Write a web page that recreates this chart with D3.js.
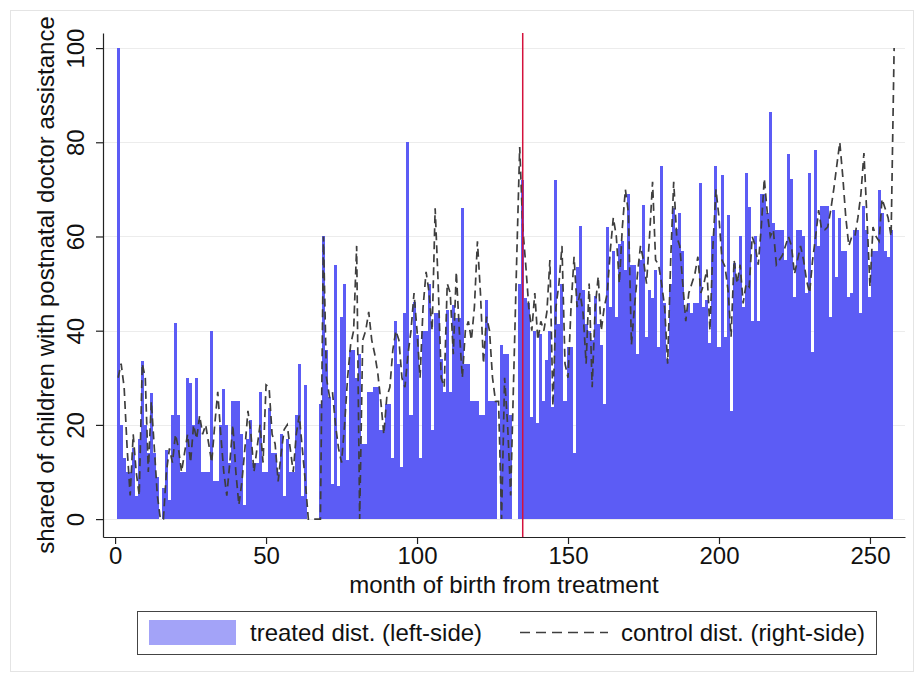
<!DOCTYPE html>
<html>
<head>
<meta charset="utf-8">
<script src="https://cdn.jsdelivr.net/npm/d3@7"></script>
<style>
  html, body { margin: 0; padding: 0; background: #fff; }
  svg { display: block; }
  text { font-family: "Liberation Sans", Arial, sans-serif; fill: #111; }
</style>
</head>
<body>
<svg id="chart" width="922" height="681"></svg>
<script>
// Share of children with postnatal doctor assistance, by month of birth (months 1..257)
const treated = [
  100, 20, 13, 10, 10, 15, 5, 17, 33.5, 20,
  14, 26.7, 14, 9, 0, 6.5, 14.6, 4, 22, 41.7,
  22, 10, 10, 30, 28.8, 20, 30, 21, 10, 10,
  10, 40, 8, 8, 20, 27.7, 20, 12, 25, 25,
  25, 18, 3, 17, 21, 12, 12, 27, 10, 10,
  23.5, 14, 14, 10, 18, 5, 17, 10, 10, 22,
  33, 5, 28.5, 0, 0, 0, 0, 24.5, 60, 36,
  26, 7.5, 54, 7, 43, 50, 12.5, 36, 36, 30,
  35, 16, 16, 27, 27, 28, 28, 19, 19, 24.5,
  24.5, 13, 42, 33, 11, 43.7, 80, 22, 46, 39,
  13, 40, 40, 50, 19, 43.7, 43.7, 34, 27, 44.4,
  27, 45.4, 42.6, 42.6, 66, 33, 33, 25, 25, 25,
  22, 22, 46.6, 25, 25, 25, 0, 37, 35, 35,
  22, 0, 0, 50, 72, 47, 45.8, 21.7, 40, 20.3,
  39.4, 25, 33.8, 40, 23.8, 72, 41.5, 50, 25, 36.6,
  36.6, 14, 53.6, 62.3, 48.6, 41.5, 40, 38, 47.3, 41.5,
  37, 24.5, 62, 45, 57, 43, 58.5, 59, 52.8, 69,
  54, 54, 35, 55, 66.6, 38.7, 48.6, 47, 52.8, 36.6,
  75, 45.8, 34, 50, 66, 61.5, 65, 57, 44.4, 45.8,
  43.7, 45.8, 45.8, 71.3, 45, 46.5, 37.3, 60, 75, 36.6,
  73, 38.7, 64.5, 23, 54.3, 51, 60, 45, 73.4, 66.3,
  42, 60, 42, 69, 69, 65, 86.5, 62.8, 61.4, 61.4,
  61.4, 55, 77.6, 72.3, 47.2, 61.4, 61.4, 60, 47.9, 73.4,
  35.5, 78.3, 58, 66.4, 66.4, 66.4, 43, 65.6, 51.5, 64,
  57, 57, 47.2, 47.9, 61.4, 61.4, 43.7, 66.4, 61.4, 47.2,
  57, 57, 69.9, 65, 57, 55.7, 61.4
];

// Control district series (months 1..258)
const control = [
  30, 33, 28, 15, 5, 18, 10, 5, 33, 30,
  10, 25, 15, 5, 0, 0, 10, 15, 12, 18,
  15, 10, 14, 18, 12, 20, 17, 22, 18, 20,
  16, 12, 20, 27, 18, 10, 5, 12, 20, 10,
  3, 8, 15, 23, 18, 10, 15, 20, 12, 28.5,
  28, 18, 16, 8, 14, 19, 20, 15, 10, 18,
  22, 15, 8, 0, 0, 0, 0, 0, 60, 30,
  26, 27, 20, 15, 12, 20, 30, 37, 40, 58,
  0, 38, 40, 44, 38, 35, 31, 25, 18, 26,
  28, 36, 40, 38, 30, 28, 35, 40, 48, 40,
  30, 45, 52.5, 48, 40, 66, 50, 30, 28, 50,
  48, 35, 52.5, 40, 30, 40, 42, 38, 45, 59,
  48, 33, 43, 40, 30, 25, 25, 0, 30, 20,
  5, 30, 55, 79, 62, 54, 45, 40, 48, 38,
  42, 40, 44, 55, 24, 45, 50, 58, 33, 30,
  45, 55.7, 45, 48, 43.7, 33, 50, 28, 45, 51.5,
  40, 45, 48, 57, 64, 60, 50, 62, 70, 65,
  37, 45, 52, 58, 55, 50, 60, 71.6, 55, 54,
  50, 45, 33, 55, 71.6, 60, 58, 50, 42, 48,
  50, 52, 55.7, 48, 50, 53, 40, 58, 70, 64,
  55, 53.6, 48.6, 38.7, 55, 50, 54, 45.8, 50, 49.3,
  60, 58, 54, 62, 72.3, 65, 60, 61.4, 54, 55,
  56, 58, 60, 58, 52, 55, 58, 55, 50.7, 48,
  55, 60, 65.6, 61.4, 61.4, 62, 65.6, 70, 75, 80,
  72.7, 64, 58, 60, 60, 64, 69, 77.7, 64, 49.3,
  62, 60, 59, 68, 66, 64, 60, 100
];

const xTicks = [0, 50, 100, 150, 200, 250];
const yTicks = [0, 20, 40, 60, 80, 100];
const cutoffMonth = 135;
const seriesLabels = ["treated dist. (left-side)", "control dist. (right-side)"];
const xTitle = "month of birth from treatment";
const yTitle = "shared of children with postnatal doctor assistance";

const barColor = "#5c5cf5";
const swatchColor = "#a3a3f8";
const lineColor = "#3e3e3e";
const cutoffColor = "#d4123c";
const axisColor = "#222222";
const gridColor = "#ececec";

const svg = d3.select("#chart");

// Plot region
const x = d3.scaleLinear().domain([-4, 261.6]).range([103, 905]);
const y = d3.scaleLinear().domain([-3.8, 103.2]).range([537, 33]);
const [xl, xr] = x.range();
const [yb, yt] = y.range();

// Outer graph frame
svg.append("rect")
  .attr("x", 10.5).attr("y", 10.5)
  .attr("width", 903).attr("height", 661)
  .attr("fill", "#fff")
  .attr("stroke", "#e4e4e4");

// Horizontal grid lines
svg.append("g").selectAll("line").data(yTicks).join("line")
  .attr("x1", xl).attr("x2", xr)
  .attr("y1", d => Math.round(y(d)) + 0.5)
  .attr("y2", d => Math.round(y(d)) + 0.5)
  .attr("stroke", gridColor).attr("stroke-width", 1);

// Treated-district bars
const barData = treated.map((v, i) => ({ m: i + 1, v })).filter(d => d.v > 0);
svg.append("g").selectAll("rect").data(barData).join("rect")
  .attr("x", d => x(d.m - 0.5))
  .attr("width", d => x(d.m + 0.5) - x(d.m - 0.5))
  .attr("y", d => y(d.v))
  .attr("height", d => y(0) - y(d.v))
  .attr("fill", barColor)
  .attr("shape-rendering", "crispEdges");

// Control-district dashed line
const lineData = control.map((v, i) => ({ m: i + 1, v }));
svg.append("path")
  .datum(lineData)
  .attr("d", d3.line().x(d => x(d.m)).y(d => y(d.v)))
  .attr("fill", "none")
  .attr("stroke", lineColor)
  .attr("stroke-width", 1.7)
  .attr("stroke-dasharray", "8,5");

// Treatment cutoff
svg.append("line")
  .attr("x1", x(cutoffMonth)).attr("x2", x(cutoffMonth))
  .attr("y1", yt).attr("y2", yb)
  .attr("stroke", cutoffColor).attr("stroke-width", 1.5);

// Y axis
const yAxis = svg.append("g")
  .attr("transform", `translate(${xl},0)`)
  .call(d3.axisLeft(y).tickValues(yTicks).tickSize(7).tickSizeOuter(0).tickFormat(d3.format("d")));
yAxis.select(".domain").attr("stroke", axisColor).attr("stroke-width", 1.2);
yAxis.selectAll(".tick line").attr("stroke", axisColor).attr("stroke-width", 1.2);
yAxis.selectAll(".tick text")
  .attr("dy", 0)
  .attr("text-anchor", "middle")
  .attr("transform", "rotate(-90)")
  .attr("x", 0).attr("y", -19)
  .style("font-size", "24px")
  .attr("fill", "#111");

// X axis
const xAxis = svg.append("g")
  .attr("transform", `translate(0,${yb})`)
  .call(d3.axisBottom(x).tickValues(xTicks).tickSize(7).tickSizeOuter(0).tickFormat(d3.format("d")));
xAxis.select(".domain").attr("stroke", axisColor).attr("stroke-width", 1.2);
xAxis.selectAll(".tick line").attr("stroke", axisColor).attr("stroke-width", 1.2);
xAxis.selectAll(".tick text")
  .attr("y", 27).attr("dy", 0)
  .style("font-size", "24px")
  .attr("fill", "#111");

// Axis titles
svg.append("text")
  .attr("x", (xl + xr) / 2).attr("y", 593)
  .attr("text-anchor", "middle")
  .style("font-size", "24px")
  .text(xTitle);

svg.append("text")
  .attr("transform", `translate(54,${(yt + yb) / 2}) rotate(-90)`)
  .attr("text-anchor", "middle")
  .style("font-size", "24px")
  .text(yTitle);

// Legend
const legend = svg.append("g");
legend.append("rect")
  .attr("x", 137.5).attr("y", 611.5)
  .attr("width", 739).attr("height", 43)
  .attr("fill", "#fff").attr("stroke", "#444").attr("stroke-width", 1);
legend.append("rect")
  .attr("x", 149).attr("y", 620)
  .attr("width", 87).attr("height", 25)
  .attr("fill", swatchColor);
legend.append("text")
  .attr("x", 250).attr("y", 641)
  .style("font-size", "24px")
  .text(seriesLabels[0]);
legend.append("line")
  .attr("x1", 520).attr("x2", 608)
  .attr("y1", 632.5).attr("y2", 632.5)
  .attr("stroke", lineColor).attr("stroke-width", 1.6)
  .attr("stroke-dasharray", "10,6");
legend.append("text")
  .attr("x", 621).attr("y", 641)
  .style("font-size", "24px")
  .text(seriesLabels[1]);
</script>
</body>
</html>
